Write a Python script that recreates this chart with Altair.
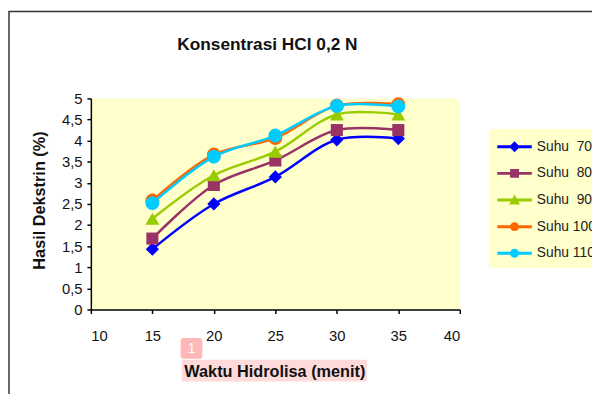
import altair as alt
import pandas as pd

waktu = [15, 20, 25, 30, 35]
suhu_70 = [1.43, 2.50, 3.14, 4.02, 4.05]
suhu_80 = [1.68, 2.95, 3.53, 4.25, 4.25]
suhu_90 = [2.15, 3.18, 3.74, 4.62, 4.62]
suhu_100 = [2.58, 3.67, 4.06, 4.83, 4.86]
suhu_110 = [2.52, 3.62, 4.12, 4.82, 4.81]

series_names = ["Suhu\u00a0\u00a070", "Suhu\u00a0\u00a080", "Suhu\u00a0\u00a090", "Suhu\u00a0100", "Suhu\u00a0110"]
series_values = [suhu_70, suhu_80, suhu_90, suhu_100, suhu_110]
colors = ["#0000FF", "#993366", "#99CC00", "#FF6600", "#00CCFF"]
shapes = ["diamond", "square", "triangle-up", "circle", "circle"]
sizes = [180, 150, 200, 200, 200]

y_ticks = [0, 0.5, 1, 1.5, 2, 2.5, 3, 3.5, 4, 4.5, 5]
x_ticks = [10, 15, 20, 25, 30, 35, 40]

rows = []
for name, vals in zip(series_names, series_values):
    for w, v in zip(waktu, vals):
        rows.append({"series": name, "waktu": w, "hasil": v})
df = pd.DataFrame(rows)

# legend symbols: line with marker (custom paths, 1 unit = 10px)
line_part = "M-1,-0.15H2.5V0.15H-1Z"
legend_paths = [
    line_part + "M0.75,-0.55L1.3,0L0.75,0.55L0.2,0Z",
    line_part + "M0.3,-0.45H1.2V0.45H0.3Z",
    line_part + "M0.75,-0.55L1.3,0.45L0.2,0.45Z",
    line_part + "M0.3,0A0.45,0.45,0,1,1,1.2,0A0.45,0.45,0,1,1,0.3,0Z",
    line_part + "M0.3,0A0.45,0.45,0,1,1,1.2,0A0.45,0.45,0,1,1,0.3,0Z",
]

x_enc = alt.X("waktu:Q",
              scale=alt.Scale(domain=[10, 40], nice=False, zero=False),
              axis=alt.Axis(values=x_ticks, title="Waktu Hidrolisa (menit)",
                            titleX=186, titleY=63, titleBaseline="middle", titleAlign="center",
                            titleFontSize=16.5, labelPadding=15, grid=False, zindex=1))
y_enc = alt.Y("hasil:Q",
              scale=alt.Scale(domain=[0, 5], nice=False),
              axis=alt.Axis(values=y_ticks, title="Hasil Dekstrin (%)",
                            labelExpr="replace(format(datum.value, '.1~f'), '.', ',')",
                            titleX=-52, titleY=103, titleBaseline="middle", titleAlign="center",
                            titleFontSize=16.5, labelPadding=5, grid=False))

frame = alt.Chart(pd.DataFrame({"a": [0]})).mark_rect(
    fill=None, stroke="#333333", strokeWidth=1.5
).encode(x=alt.value(-83), x2=alt.value(800), y=alt.value(-88), y2=alt.value(600))

# pink highlight behind x-axis title and note badge
highlight = alt.Chart(pd.DataFrame({"a": [0]})).mark_rect(
    fill="#FFDADA", stroke=None
).encode(x=alt.value(92), x2=alt.value(280), y=alt.value(265), y2=alt.value(287))
badge = alt.Chart(pd.DataFrame({"a": [0]})).mark_rect(
    fill="#FFB8B8", cornerRadius=3
).encode(x=alt.value(91), x2=alt.value(113), y=alt.value(243), y2=alt.value(264))
badge_text = alt.Chart(pd.DataFrame({"a": [0]})).mark_text(
    text="1", color="white", fontSize=14, font="Liberation Sans"
).encode(x=alt.value(102), y=alt.value(254))

layers = [frame, highlight, badge, badge_text]
for name, c, sh, sz in zip(series_names, colors, shapes, sizes):
    base = alt.Chart(df).transform_filter(alt.datum.series == name)
    layers.append(base.mark_line(color=c, strokeWidth=2.5, interpolate="catmull-rom").encode(x=x_enc, y=y_enc))
    layers.append(base.mark_point(shape=sh, filled=True, opacity=1, color=c, size=sz).encode(x=x_enc, y=y_enc))

legend_layer = alt.Chart(df).transform_filter("false").mark_point(filled=True, opacity=1).encode(
    x=x_enc,
    y=y_enc,
    fill=alt.Fill("series:N", scale=alt.Scale(domain=series_names, range=colors),
                  legend=alt.Legend(title=None, orient="none", legendX=404, legendY=31,
                                    fillColor="#FFFFCC", padding=8, rowPadding=10,
                                    symbolSize=400, symbolStrokeWidth=0, labelOffset=20,
                                    labelFontSize=14, labelColor="#222222",
                                    labelFont="Liberation Sans", labelLimit=200)),
    shape=alt.Shape("series:N", scale=alt.Scale(domain=series_names, range=legend_paths)),
)
layers.append(legend_layer)

chart = alt.layer(*layers).properties(
    width=374, height=214,
    title=alt.TitleParams("Konsentrasi HCl 0,2 N", fontSize=17.5, fontWeight="bold",
                          font="Liberation Sans", offset=0, dy=43, dx=-8, color="#111111",
                          frame="group", anchor="middle"),
    autosize=alt.AutoSizeParams(type="none"),
    padding={"left": 84, "top": 89, "right": 134, "bottom": 83},
).configure(
    background="white"
).configure_view(
    fill="#FFFFCC", stroke=None
).configure_axis(
    grid=False, domainColor="#000000", domainWidth=1.5, tickColor="#000000", tickWidth=1.5,
    tickSize=4, labelFont="Liberation Sans", labelFontSize=15, labelColor="#111111",
    titleFont="Liberation Sans", titleFontSize=16, titleFontWeight="bold", titleColor="#111111"
)

chart.save("out.html", embed_options={"renderer": "svg", "actions": False})
